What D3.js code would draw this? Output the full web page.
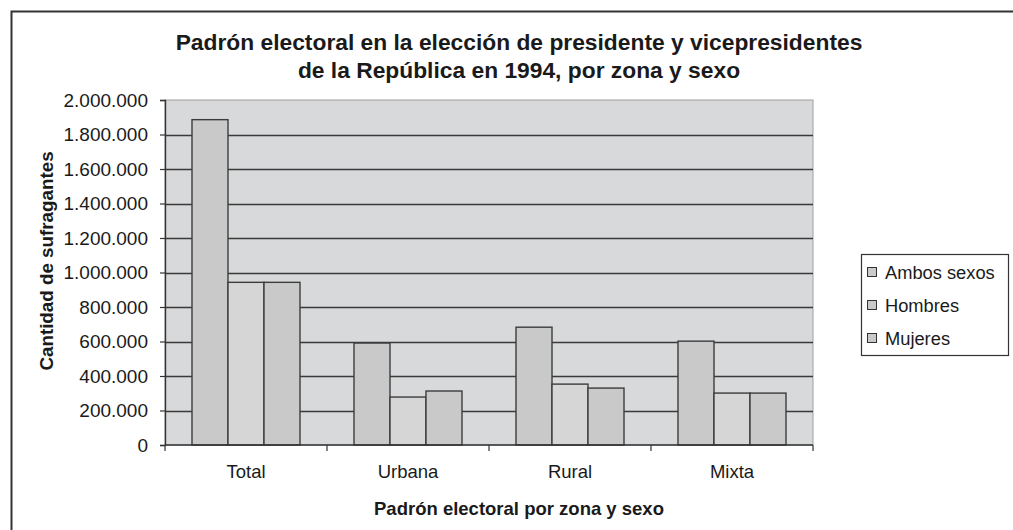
<!DOCTYPE html>
<html>
<head>
<meta charset="utf-8">
<script src="https://cdn.jsdelivr.net/npm/d3@7"></script>
<style>
  html, body { margin: 0; padding: 0; background: #fff; }
  svg { display: block; font-family: Arial, "Liberation Sans", sans-serif; }
</style>
</head>
<body>
<svg id="chart" width="1013" height="530"></svg>
<script>
// Electoral roll 1994 by zone and sex
const categories = ["Total", "Urbana", "Rural", "Mixta"];
const seriesNames = ["Ambos sexos", "Hombres", "Mujeres"];
const ambosSexos = [1886000, 591000, 683000, 602000];
const hombres    = [943000, 278000, 353000, 301000];
const mujeres    = [943000, 313000, 330000, 301000];
const yTicks = [0, 200000, 400000, 600000, 800000, 1000000, 1200000, 1400000, 1600000, 1800000, 2000000];

const seriesValues = [ambosSexos, hombres, mujeres];
const seriesFill = ["#c9c9c9", "#d6d6d6", "#c9c9c9"];

const svg = d3.select("#chart");

const plot = { left: 165, right: 813, top: 100, bottom: 445 };

// outer chart frame
svg.append("rect")
  .attr("x", 11.5).attr("y", 11.5)
  .attr("width", 1013).attr("height", 530)
  .attr("fill", "#fff").attr("stroke", "#333").attr("stroke-width", 2);

const x = d3.scaleBand().domain(categories).range([plot.left, plot.right]).paddingInner(0).paddingOuter(0);
const xInner = d3.scaleBand().domain(seriesNames).range([0, x.bandwidth()]).paddingInner(0).paddingOuter(0.75);
const y = d3.scaleLinear().domain([0, 2000000]).range([plot.bottom, plot.top]);

// plot area background
svg.append("rect")
  .attr("x", plot.left).attr("y", plot.top)
  .attr("width", plot.right - plot.left).attr("height", plot.bottom - plot.top)
  .attr("fill", "#d8d9da").attr("stroke", "#a0a0a0").attr("stroke-width", 1);

// horizontal gridlines
svg.append("g").selectAll("line")
  .data(yTicks.filter(d => d > 0 && d < 2000000))
  .join("line")
  .attr("x1", plot.left).attr("x2", plot.right)
  .attr("y1", d => Math.round(y(d)) + 0.5).attr("y2", d => Math.round(y(d)) + 0.5)
  .attr("stroke", "#3a3a3a").attr("stroke-width", 1.4);

// bars
const rows = [];
categories.forEach((c, i) => {
  seriesNames.forEach((s, j) => rows.push({ cat: c, series: s, j, value: seriesValues[j][i] }));
});
svg.append("g").selectAll("rect")
  .data(rows)
  .join("rect")
  .attr("x", d => x(d.cat) + xInner(d.series))
  .attr("y", d => y(d.value))
  .attr("width", xInner.bandwidth())
  .attr("height", d => y(0) - y(d.value))
  .attr("fill", d => seriesFill[d.j])
  .attr("stroke", "#3c3c3c").attr("stroke-width", 1.4);

// y axis
const yAxis = d3.axisLeft(y)
  .tickValues(yTicks)
  .tickSize(5)
  .tickPadding(12)
  .tickFormat(d => d3.format(",")(d).replace(/,/g, "."));
const gy = svg.append("g").attr("transform", `translate(${plot.left},0)`).call(yAxis);
gy.select(".domain").attr("stroke", "#333").attr("stroke-width", 1.4);
gy.selectAll(".tick line").attr("stroke", "#333").attr("stroke-width", 1.2);
gy.selectAll(".tick text").attr("font-size", 19).attr("fill", "#1a1a1a").attr("font-family", "Arial, 'Liberation Sans', sans-serif");

// x axis: ticks at category boundaries, labels centred in bands
const gx = svg.append("g").attr("transform", `translate(0,${plot.bottom})`);
gx.append("line").attr("x1", plot.left).attr("x2", plot.right)
  .attr("y1", 0).attr("y2", 0).attr("stroke", "#333").attr("stroke-width", 1.4);
const boundaries = categories.map(c => x(c)).concat([plot.right]);
gx.selectAll("line.tk").data(boundaries).join("line").attr("class", "tk")
  .attr("x1", d => d).attr("x2", d => d).attr("y1", 0).attr("y2", 6)
  .attr("stroke", "#333").attr("stroke-width", 1.2);
gx.selectAll("text").data(categories).join("text")
  .attr("x", d => x(d) + x.bandwidth() / 2)
  .attr("y", 33)
  .attr("text-anchor", "middle")
  .attr("font-size", 18.5).attr("fill", "#1a1a1a")
  .text(d => d);

// title
const title = svg.append("text").attr("text-anchor", "middle")
  .attr("font-size", 22.8).attr("font-weight", "bold").attr("fill", "#1a1a1a");
title.append("tspan").attr("x", 519).attr("y", 50).text("Padrón electoral en la elección de presidente y vicepresidentes");
title.append("tspan").attr("x", 519).attr("y", 78).text("de la República en 1994, por zona y sexo");

// axis titles
svg.append("text")
  .attr("transform", "translate(53,261) rotate(-90)")
  .attr("text-anchor", "middle")
  .attr("font-size", 18.8).attr("font-weight", "bold").attr("fill", "#1a1a1a")
  .text("Cantidad de sufragantes");
svg.append("text")
  .attr("x", 519).attr("y", 515)
  .attr("text-anchor", "middle")
  .attr("font-size", 18.5).attr("font-weight", "bold").attr("fill", "#1a1a1a")
  .text("Padrón electoral por zona y sexo");

// legend
const legend = svg.append("g");
legend.append("rect")
  .attr("x", 861.5).attr("y", 254.5).attr("width", 147).attr("height", 101)
  .attr("fill", "#fff").attr("stroke", "#333").attr("stroke-width", 1.2);
const li = legend.selectAll("g.item").data(seriesNames).join("g").attr("class", "item")
  .attr("transform", (d, i) => `translate(0,${272 + i * 33})`);
li.append("rect")
  .attr("x", 867.5).attr("y", -4.5).attr("width", 9).attr("height", 9)
  .attr("fill", "#c9c9c9").attr("stroke", "#333").attr("stroke-width", 1);
li.append("text")
  .attr("x", 885).attr("y", 6.5)
  .attr("font-size", 18.3).attr("fill", "#1a1a1a")
  .text(d => d);
</script>
</body>
</html>
